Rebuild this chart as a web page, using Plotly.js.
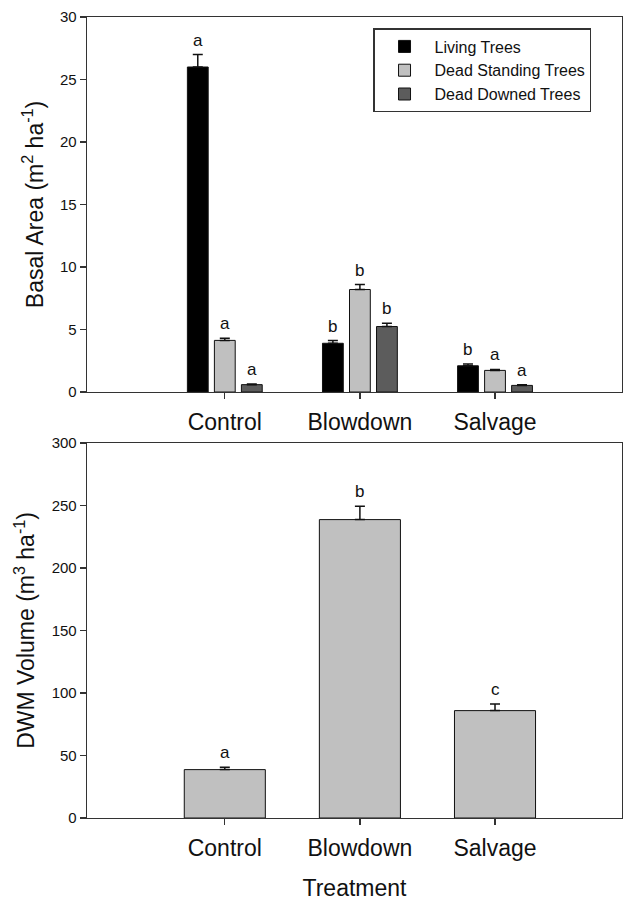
<!DOCTYPE html>
<html>
<head>
<meta charset="utf-8">
<script src="https://cdn.plot.ly/plotly-3.0.1.min.js"></script>
<style>html,body{margin:0;padding:0;background:#fff;}#chart{width:624px;height:901px;}</style>
</head>
<body>
<div id="chart"></div>
<script>
// ---- data ----
const categories = ['Control', 'Blowdown', 'Salvage'];
const seriesNames = ['Living Trees', 'Dead Standing Trees', 'Dead Downed Trees'];
const living = [26.0, 3.9, 2.1];
const livingErr = [1.0, 0.22, 0.14];
const livingLetters = ['a', 'b', 'b'];
const standing = [4.13, 8.2, 1.73];
const standingErr = [0.18, 0.4, 0.08];
const standingLetters = ['a', 'b', 'a'];
const downed = [0.59, 5.24, 0.53];
const downedErr = [0.05, 0.27, 0.06];
const downedLetters = ['a', 'b', 'a'];
const dwm = [38.7, 238.7, 85.9];
const dwmErr = [1.8, 10.6, 5.3];
const dwmLetters = ['a', 'b', 'c'];
const basalTicks = [0, 5, 10, 15, 20, 25, 30];
const dwmTicks = [0, 50, 100, 150, 200, 250, 300];

// ---- styles ----
const FONT = 'Liberation Sans, Arial, sans-serif';
const colors = ['#000000', '#c0c0c0', '#5c5c5c'];
const lineCol = '#333333';
const BARGAP = 0.4;

const topSeries = [
  {y: living, err: livingErr, letters: livingLetters},
  {y: standing, err: standingErr, letters: standingLetters},
  {y: downed, err: downedErr, letters: downedLetters}
];

const traces = [];
const annotations = [];
const slot = (1 - BARGAP) / topSeries.length;
topSeries.forEach((s, j) => {
  traces.push({
    type: 'bar', name: seriesNames[j], x: categories, y: s.y,
    xaxis: 'x', yaxis: 'y',
    marker: {color: colors[j], line: {color: '#111', width: 1}},
    error_y: {type: 'data', symmetric: false, array: s.err, arrayminus: s.y.map(() => 0),
              color: '#111', thickness: 1.5, width: 5}
  });
  const off = (j - (topSeries.length - 1) / 2) * slot;
  s.y.forEach((v, i) => {
    annotations.push({
      xref: 'x', yref: 'y', x: i + off, y: v + s.err[i], text: s.letters[i],
      showarrow: false, yanchor: 'bottom', yshift: 3,
      font: {family: FONT, size: 17, color: '#111'}
    });
  });
});

traces.push({
  type: 'bar', name: 'DWM Volume', x: categories, y: dwm, xaxis: 'x2', yaxis: 'y2',
  showlegend: false, width: 0.6,
  marker: {color: '#c0c0c0', line: {color: '#111', width: 1}},
  error_y: {type: 'data', symmetric: false, array: dwmErr, arrayminus: dwm.map(() => 0),
            color: '#111', thickness: 1.5, width: 5}
});
dwm.forEach((v, i) => {
  annotations.push({
    xref: 'x2', yref: 'y2', x: i, y: v + dwmErr[i], text: dwmLetters[i],
    showarrow: false, yanchor: 'bottom', yshift: 3,
    font: {family: FONT, size: 17, color: '#111'}
  });
});

const xBase = {
  type: 'category', range: [-1.02, 2.94], ticks: 'outside', ticklen: 6, tickwidth: 1.3,
  tickcolor: lineCol, showline: true, linecolor: lineCol, linewidth: 1.3, mirror: true,
  showgrid: false, zeroline: false, tickfont: {family: FONT, size: 23, color: '#111'},
  ticklabelstandoff: 3, fixedrange: true
};
const yBase = {
  ticks: 'outside', ticklen: 6, tickwidth: 1.3, tickcolor: lineCol,
  showline: true, linecolor: lineCol, linewidth: 1.3, mirror: true,
  showgrid: false, zeroline: false, tickfont: {family: FONT, size: 15, color: '#111'}
};

const layout = {
  width: 624, height: 901,
  margin: {l: 87, r: 2, t: 17, b: 83},
  paper_bgcolor: '#ffffff', plot_bgcolor: '#ffffff',
  font: {family: FONT, color: '#111'},
  barmode: 'group', bargap: BARGAP, bargroupgap: 0.23,
  showlegend: true,
  legend: {
    x: 0.535, y: 0.986, xanchor: 'left', yanchor: 'top',
    bordercolor: '#333', borderwidth: 1.3, bgcolor: '#fff', itemwidth: 50,
    font: {family: FONT, size: 16, color: '#111'}, tracegroupgap: 0
  },
  xaxis: Object.assign({}, xBase, {anchor: 'y', domain: [0, 1]}),
  yaxis: Object.assign({}, yBase, {
    anchor: 'x', domain: [0.5318, 1], range: [0, 30], tickvals: basalTicks,
    title: {text: 'Basal Area (m<sup>2</sup> ha<sup>-1</sup>)', font: {family: FONT, size: 23, color: '#111'}, standoff: 10}
  }),
  xaxis2: Object.assign({}, xBase, {
    anchor: 'y2', domain: [0, 1],
    title: {text: 'Treatment', font: {family: FONT, size: 23, color: '#111'}, standoff: 20}
  }),
  yaxis2: Object.assign({}, yBase, {
    anchor: 'x2', domain: [0, 0.4682], range: [0, 300], tickvals: dwmTicks,
    title: {text: 'DWM Volume (m<sup>3</sup> ha<sup>-1</sup>)', font: {family: FONT, size: 23, color: '#111'}, standoff: 10}
  }),
  annotations: annotations
};

Plotly.newPlot('chart', traces, layout, {displayModeBar: false, staticPlot: true});
</script>
</body>
</html>
